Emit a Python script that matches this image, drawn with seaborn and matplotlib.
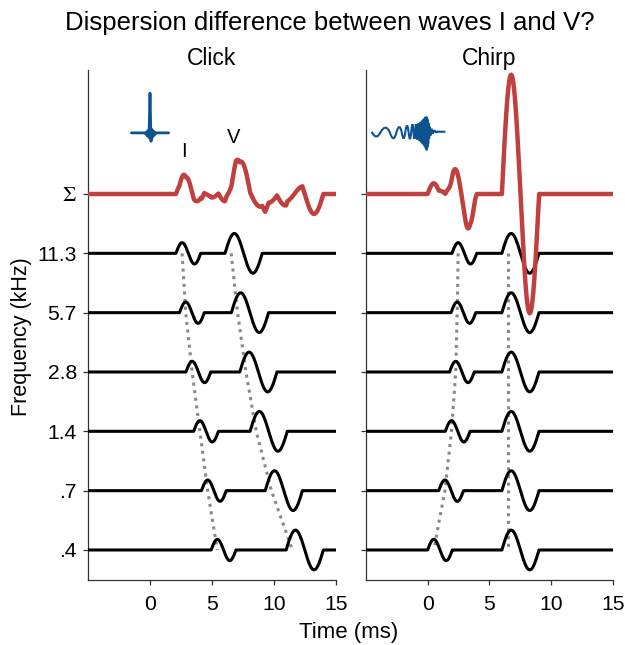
import numpy as np
import pandas as pd
import seaborn as sns
import matplotlib.pyplot as plt
from matplotlib.path import Path
from matplotlib.patches import PathPatch

# frequency bands, top to bottom (Σ is drawn above them)
bands = ['11.3', '5.7', '2.8', '1.4', '.7', '.4']
# onsets (ms) of wave I and wave V in each band
click_I = [2.09, 2.38, 2.90, 3.52, 4.15, 4.93]
click_V = [6.05, 6.56, 7.24, 8.07, 9.29, 10.98]
chirp_I = [1.97, 1.89, 1.77, 1.43, 0.90, 0.00]
chirp_V = [6.00, 6.00, 6.00, 6.00, 6.00, 6.00]
amp_I, amp_V = 0.18, 0.335
per_I, per_V = 2.0, 3.0

# stimulus icons (ms, relative amplitude)
click_t = [-1.5, -0.25, -0.08, 0.0, 0.08, 0.25, 1.5]
click_v = [0.0, 0.0, -0.05, 0.67, -0.14, 0.0, 0.0]
# chirp icon: times and values of successive peaks/troughs
chirp_t = [-4.15, -3.40, -2.74, -2.27, -1.93, -1.66, -1.42, -1.22, -1.06, -0.93,
           -0.82, -0.73, -0.65, -0.58, -0.51, -0.45, -0.39, -0.34, -0.29, -0.25,
           -0.21, -0.17, -0.13, -0.10, -0.07, -0.04, -0.01, 0.02, 0.05, 0.08,
           0.12, 0.17, 0.23, 0.31, 0.41, 0.54, 0.72]
chirp_v = [-0.08, 0.07, -0.11, 0.08, -0.11, 0.10, -0.12, 0.12, -0.14, 0.15,
           -0.16, 0.17, -0.19, 0.20, -0.22, 0.23, -0.26, 0.26, -0.29, 0.29,
           -0.33, 0.31, -0.37, 0.32, -0.40, 0.30, -0.34, 0.25, -0.26, 0.18,
           -0.14, 0.10, -0.07, 0.05, -0.03, 0.02, -0.01]
chirp_end = 1.43

t = np.linspace(-5, 15, 2001)


def wavelet(onset, period, amp):
    ph = (t - onset) / period
    return np.where((ph >= 0) & (ph <= 1), amp * np.sin(2 * np.pi * ph), 0.0)


sns.set_style('ticks')
plt.rcParams['font.family'] = ['Liberation Sans', 'DejaVu Sans']
plt.rcParams['mathtext.fontset'] = 'stix'
plt.rcParams['text.color'] = 'black'

fig = plt.figure(figsize=(6.25, 6.45), dpi=100)
ax1 = fig.add_axes([88 / 625, 1 - 580 / 645, 248 / 625, 510 / 645])
ax2 = fig.add_axes([365.7 / 625, 1 - 580 / 645, 247.6 / 625, 510 / 645])

red = '#c0403f'
blue = '#0d5390'

for ax, on_I, on_V, name in [(ax1, click_I, click_V, 'Click'), (ax2, chirp_I, chirp_V, 'Chirp')]:
    total = np.zeros_like(t)
    for i, b in enumerate(bands):
        y0 = len(bands) - 1 - i
        w = wavelet(on_I[i], per_I, amp_I) + wavelet(on_V[i], per_V, amp_V)
        total += w
        sns.lineplot(x=t, y=w + y0, ax=ax, color='black', lw=2.2, zorder=3)
    rows = np.arange(len(bands))[::-1]
    sns.lineplot(x=np.array(on_I) + per_I / 4, y=rows, ax=ax, sort=False, estimator=None,
                 color='#888888', lw=2.2, ls=(0, (1, 1.5)), zorder=2)
    sns.lineplot(x=np.array(on_V) + per_V / 6, y=rows, ax=ax, sort=False, estimator=None,
                 color='#888888', lw=2.2, ls=(0, (1, 1.5)), zorder=2)
    sns.lineplot(x=t, y=total + len(bands), ax=ax, color=red, lw=3.2, zorder=4)

    ax.set_xlim(-5, 15)
    ax.set_ylim(-0.506, 8.09)
    ax.set_xticks([0, 5, 10, 15])
    ax.set_yticks(range(len(bands) + 1))
    ax.tick_params(labelsize=15.2, length=3.5, width=0.9, color='#333333', labelcolor='black')
    ax.tick_params(axis='x', pad=7.5)
    ax.tick_params(axis='y', pad=4.5)
    ax.set_xlabel('')
    ax.set_ylabel('')
    for s in ['left', 'bottom']:
        ax.spines[s].set_linewidth(0.9)
        ax.spines[s].set_color('#333333')
    sns.despine(ax=ax)
    ax.text(0.5, 1 + 5 / 510, name, transform=ax.transAxes, ha='center', va='baseline', fontsize=16.5)

ax1.set_yticklabels(bands[::-1] + [r'$\Sigma$'])
ax2.set_yticklabels([])

# stimulus icons
ax1.plot(click_t, np.array(click_v) + 7.03, color=blue, lw=2)
ax1.scatter([0], [7.02], s=40, color=blue, marker='D', zorder=5)

base = 7.05
verts = [(chirp_t[0] - (chirp_t[1] - chirp_t[0]) / 2, base)]
codes = [Path.MOVETO]
for i in range(len(chirp_t)):
    nxt = (chirp_t[i] + chirp_t[i + 1]) / 2 if i + 1 < len(chirp_t) else chirp_t[i] + 0.05
    verts += [(chirp_t[i], base + 2 * chirp_v[i]), (nxt, base)]
    codes += [Path.CURVE3, Path.CURVE3]
verts.append((chirp_end, base))
codes.append(Path.LINETO)
ax2.add_patch(PathPatch(Path(verts, codes), fill=False, edgecolor=blue, lw=1.5))

ax1.text(2.7, 6.71, 'I', ha='center', va='center', fontsize=14.5)
ax1.text(6.77, 6.95, 'V', ha='center', va='center', fontsize=14.5)

fig.text(330 / 625, 1 - 30 / 645, 'Dispersion difference between waves I and V?', ha='center',
         va='baseline', fontsize=18.5)
fig.text(348.6 / 625, 1 - 638 / 645, 'Time (ms)', ha='center', va='baseline', fontsize=16)
fig.text(22 / 625, 1 - 337 / 645, 'Frequency (kHz)', ha='center', va='center', rotation=90,
         fontsize=15.5)

fig.savefig('out.png', dpi=100)
